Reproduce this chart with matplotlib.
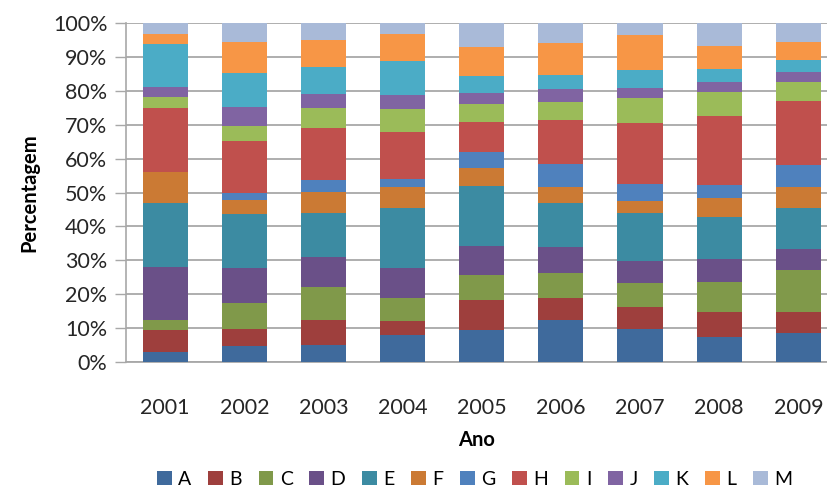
import numpy as np
import matplotlib
matplotlib.use('Agg')
import matplotlib.pyplot as plt
from matplotlib.ticker import FuncFormatter

plt.rcParams['font.family'] = ['Lato', 'DejaVu Sans']

anos = ['2001', '2002', '2003', '2004', '2005', '2006', '2007', '2008', '2009']
categorias = ['A', 'B', 'C', 'D', 'E', 'F', 'G', 'H', 'I', 'J', 'K', 'L', 'M']

# percent share of each category per year
A = [2.8, 4.5, 4.9, 8.0, 9.3, 12.3, 9.7, 7.3, 8.6]
B = [6.6, 5.2, 7.4, 4.0, 8.8, 6.5, 6.4, 7.5, 6.2]
C = [2.9, 7.8, 9.9, 6.8, 7.6, 7.5, 7.2, 8.7, 12.2]
D = [15.8, 10.2, 8.9, 8.9, 8.5, 7.6, 6.5, 6.9, 6.2]
E = [18.7, 15.9, 12.9, 17.7, 17.7, 12.9, 14.2, 12.4, 12.2]
F = [9.3, 4.2, 6.1, 6.2, 5.4, 4.8, 3.5, 5.7, 6.2]
G = [0.0, 2.2, 3.5, 2.5, 4.6, 6.8, 5.0, 3.7, 6.5]
H = [19.0, 15.2, 15.4, 13.9, 9.0, 13.0, 18.1, 20.5, 19.0]
I = [3.1, 4.5, 6.1, 6.8, 5.3, 5.4, 7.5, 7.1, 5.6]
J = [3.1, 5.5, 4.1, 4.1, 3.3, 3.9, 2.8, 2.9, 3.0]
K = [12.6, 10.2, 7.9, 9.9, 4.9, 4.0, 5.2, 3.8, 3.5]
L = [3.0, 9.2, 7.9, 8.1, 8.6, 9.6, 10.6, 6.8, 5.4]
M = [3.1, 5.4, 5.0, 3.1, 7.0, 5.7, 3.3, 6.7, 5.4]

cores = ['#3F6A9C', '#9E3F3D', '#80994A', '#6A5088', '#3C8BA2', '#CB7A34',
         '#4F81BD', '#C0504D', '#9BBB59', '#8064A2', '#4BACC6', '#F79646', '#A9BAD8']

series = [A, B, C, D, E, F, G, H, I, J, K, L, M]
dados = np.array(series, dtype=float)
dados = dados / dados.sum(axis=0) * 100

fig = plt.figure(figsize=(8.27, 4.91), dpi=100)
ax = fig.add_axes([0.1518, 0.2633, 0.848, 0.689])

x = np.arange(len(anos))
base = np.zeros(len(anos))
for nome, vals, cor in zip(categorias, dados, cores):
    ax.bar(x, vals, 0.57, bottom=base, color=cor, label=nome, zorder=3)
    base += vals

ax.set_ylim(0, 100)
ax.set_xlim(-0.5, 8.36)
ax.set_yticks(np.arange(0, 101, 10))
ax.yaxis.set_major_formatter(FuncFormatter(lambda v, p: '%d%%' % v))
ax.grid(axis='y', color='#A8A8A8', lw=1.3, zorder=0)
ax.set_xticks(x)
ax.set_xticklabels(anos)
ax.tick_params(axis='y', length=8, width=1, color='#A8A8A8', labelsize=15.5,
               labelcolor='#262626', pad=5)
ax.tick_params(axis='x', length=0, labelsize=15.5, labelcolor='#262626', pad=26)
for s in ['top', 'right']:
    ax.spines[s].set_visible(False)
ax.spines['left'].set_color('#A8A8A8')
ax.spines['bottom'].set_color('#A8A8A8')
ax.spines['left'].set_linewidth(1.2)
ax.spines['bottom'].set_linewidth(1.3)

ax.set_xlabel('Ano', fontsize=14.5, fontweight='bold', labelpad=9)
ax.set_ylabel('Percentagem', fontsize=14.5, fontweight='bold', labelpad=10)

fig.legend(loc='center', bbox_to_anchor=(0.574, 0.024), ncol=13, frameon=False,
           fontsize=14, handlelength=0.75, handleheight=0.75, handletextpad=0.35,
           columnspacing=0.85, borderpad=0)

fig.savefig('out.png', dpi=100)
